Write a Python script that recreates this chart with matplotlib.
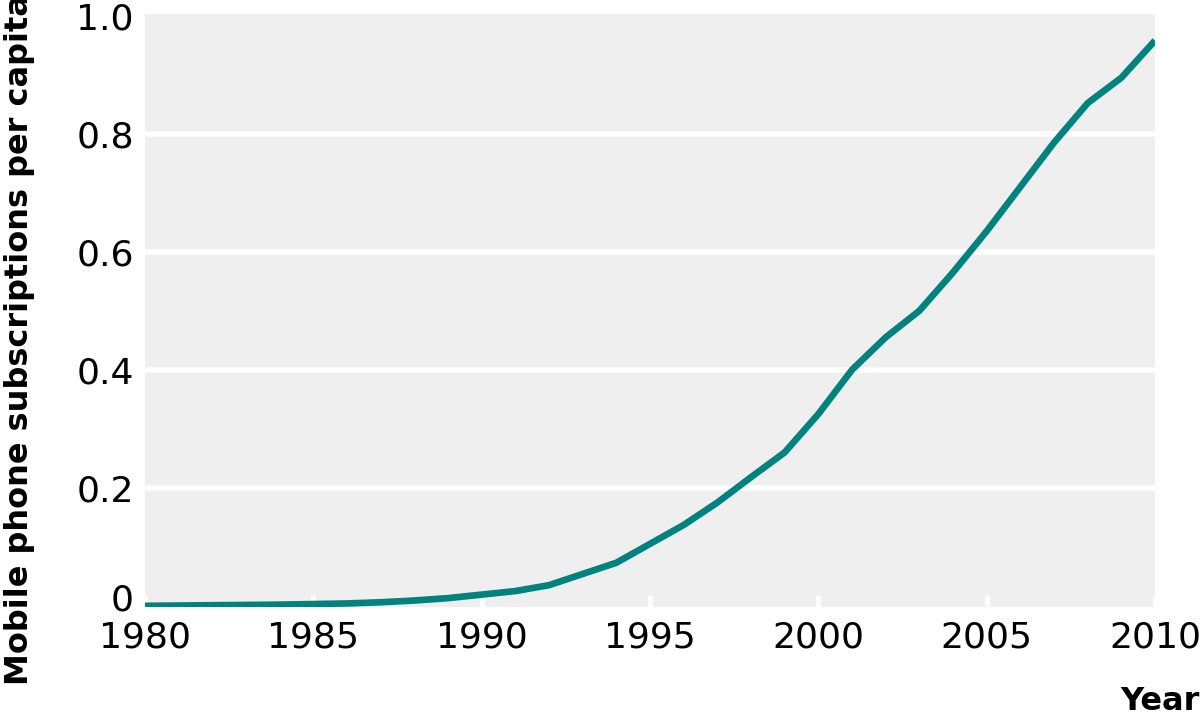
import matplotlib
matplotlib.use("Agg")
import matplotlib.pyplot as plt
from matplotlib.ticker import FixedLocator, FixedFormatter
from matplotlib.transforms import ScaledTranslation

years = list(range(1980, 2011))
subs_per_capita = [0.0, 0.0005, 0.001, 0.0015, 0.002, 0.003, 0.004, 0.006, 0.009, 0.013,
                   0.019, 0.025, 0.035, 0.054, 0.073, 0.105, 0.137, 0.175, 0.218, 0.26,
                   0.325, 0.40, 0.455, 0.50, 0.565, 0.635, 0.71, 0.785, 0.852, 0.895, 0.958]
x_ticks = [1980, 1985, 1990, 1995, 2000, 2005, 2010]
y_ticks = [0, 0.2, 0.4, 0.6, 0.8, 1.0]
y_tick_labels = ["0", "0.2", "0.4", "0.6", "0.8", "1.0"]

plt.rcParams['font.family'] = ['DejaVu Sans']

fig = plt.figure(figsize=(12, 7.21), dpi=100)
ax = fig.add_axes([145/1200, 1 - 607/721, 1010/1200, 593/721])
ax.set_facecolor('#efefef')
for s in ax.spines.values():
    s.set_visible(False)

ax.set_xlim(1980, 2010)
ax.set_ylim(-0.002, 1.003)
ax.yaxis.set_major_locator(FixedLocator(y_ticks))
ax.yaxis.set_major_formatter(FixedFormatter(y_tick_labels))
ax.set_xticks(x_ticks)
ax.grid(axis='y', color='white', linewidth=4)
ax.set_axisbelow(True)
for gl, t in zip(ax.get_ygridlines(), y_ticks):
    if t >= 1.0 or t <= 0:
        gl.set_visible(False)

ax.tick_params(axis='y', length=0, pad=8, labelsize=26)
ax.tick_params(axis='x', direction='in', length=9, width=3.5, color='white', pad=10, labelsize=26)
ylabels = ax.get_yticklabels()
ylabels[0].set_transform(ylabels[0].get_transform() + ScaledTranslation(0, 9/100, fig.dpi_scale_trans))

ax.plot(years, subs_per_capita, color='#00827e', linewidth=4.8,
        solid_capstyle='butt', solid_joinstyle='round', zorder=3)

fig.text(20/1200, 1 - 340/721, "Mobile phone subscriptions per capita", rotation=90,
         ha='center', va='center', fontsize=23, fontweight='bold')
fig.text(1200/1200, 1 - 702/721, "Year", ha='right', va='center', fontsize=23, fontweight='bold')

fig.savefig("out.png", dpi=100)
